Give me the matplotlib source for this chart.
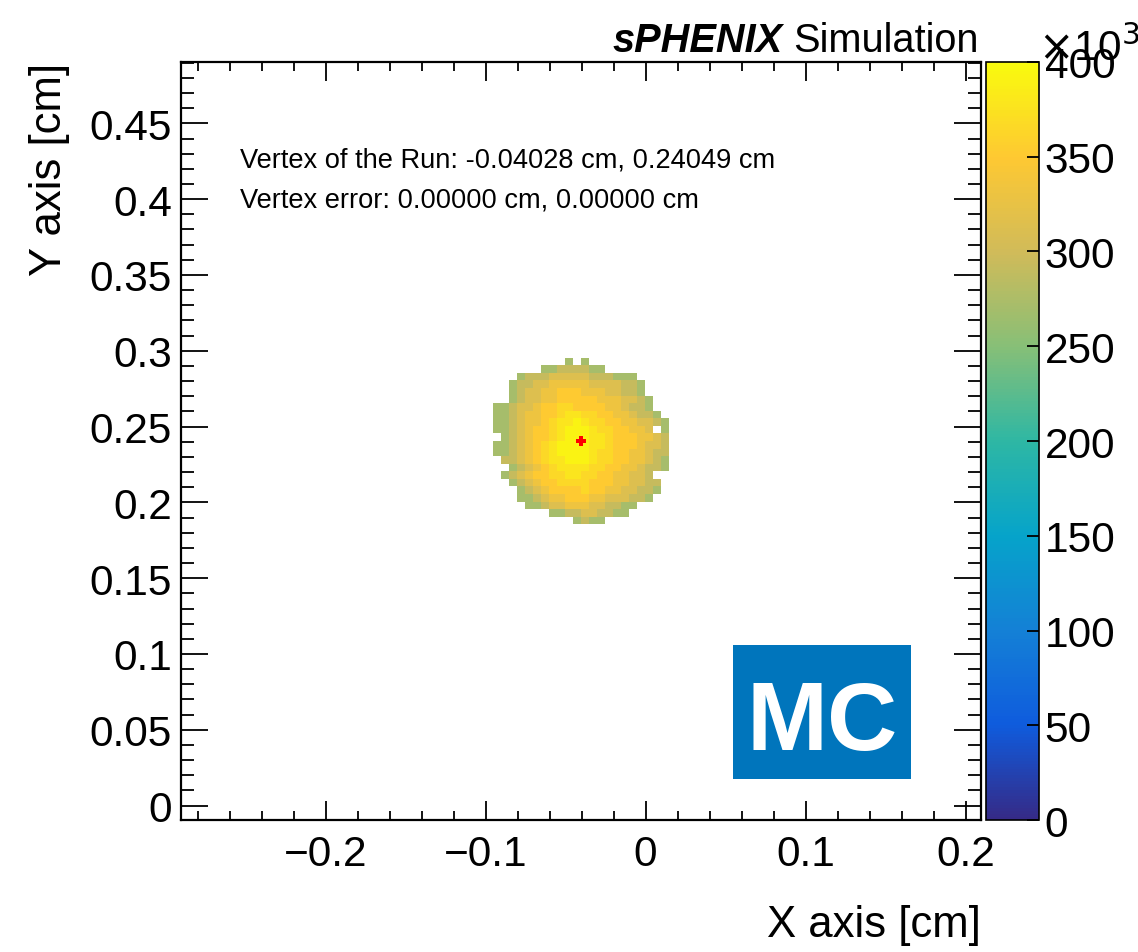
import numpy as np
import matplotlib
matplotlib.use('Agg')
import matplotlib.pyplot as plt
from matplotlib.colors import LinearSegmentedColormap
from matplotlib.patches import Rectangle
from matplotlib.ticker import MultipleLocator, FuncFormatter

plt.rcParams['font.family'] = ['Liberation Sans', 'DejaVu Sans']

# run vertex and histogram binning (100 x 100 bins, vertex +- 0.25 cm)
vertex_x = -0.04028
vertex_y = 0.24049
vertex_err_x = 0.0
vertex_err_y = 0.0
half_range = 0.25
n_bins = 100

# bin contents around the vertex, read off the picture as levels
# rows go top -> bottom, columns are bin offsets -11 .. +10 from the vertex
blob_rows = [
    ".........1.1..........",
    "......11222211........",
    "...122233333222111....",
    "..12233444443333221...",
    "..12334455544433221...",
    "..123344555554443321..",
    "11233455665555443221..",
    "112344556776655443221.",
    "1123445677876655443321",
    "11234556788876655443.1",
    ".123455678887765554432",
    "1123456788887765554332",
    "1123456788887665544322",
    ".223456778887665544321",
    "..12345677776655443221",
    ".1234556677665544332..",
    "..1234556666555443322.",
    "...123455556554433221.",
    "...11234455544333221..",
    "....11233444332211....",
    ".......1122332211.....",
    "..........1211........",
]
level_counts = {'1': 270e3, '2': 292e3, '3': 313e3, '4': 332e3,
                '5': 350e3, '6': 364e3, '7': 377e3, '8': 392e3}
z_max = 400e3

# ROOT kBird palette
bird_r = [0.2082, 0.0592, 0.0780, 0.0232, 0.1802, 0.5301, 0.8186, 0.9956, 0.9764]
bird_g = [0.1664, 0.3599, 0.5041, 0.6419, 0.7178, 0.7492, 0.7328, 0.7862, 0.9832]
bird_b = [0.5293, 0.8684, 0.8385, 0.7914, 0.6425, 0.4662, 0.3499, 0.1968, 0.0539]
bird = LinearSegmentedColormap.from_list('bird', list(zip(bird_r, bird_g, bird_b)), N=255)

x_edges = np.linspace(vertex_x - half_range, vertex_x + half_range, n_bins + 1)
y_edges = np.linspace(vertex_y - half_range, vertex_y + half_range, n_bins + 1)
counts = np.zeros((n_bins, n_bins))
for r, row in enumerate(blob_rows):
    iy = n_bins // 2 + 10 - r
    for c, ch in enumerate(row):
        if ch != '.':
            counts[iy, n_bins // 2 - 11 + c] = level_counts[ch]
counts = np.ma.masked_equal(counts, 0)

fig = plt.figure(figsize=(11.38, 9.53), dpi=100)
ax = fig.add_axes([0.1591, 0.1385, 0.7030, 0.7954])
mesh = ax.pcolormesh(x_edges, y_edges, counts, cmap=bird, vmin=0, vmax=z_max)
ax.plot([vertex_x], [vertex_y], marker='P', color='red', markersize=7, markeredgewidth=0)

ax.set_xlim(x_edges[0], x_edges[-1])
ax.set_ylim(y_edges[0], y_edges[-1])
ax.xaxis.set_major_locator(MultipleLocator(0.1))
ax.xaxis.set_minor_locator(MultipleLocator(0.02))
ax.yaxis.set_major_locator(MultipleLocator(0.05))
ax.yaxis.set_minor_locator(MultipleLocator(0.01))
fmt = FuncFormatter(lambda v, p: ('%g' % round(v, 3)).replace('-', '\u2212') if abs(v) > 1e-9 else '0')
ax.xaxis.set_major_formatter(fmt)
ax.yaxis.set_major_formatter(fmt)
ax.tick_params(which='both', direction='in', top=True, right=True, width=1.3, labelsize=30.5)
ax.tick_params(axis='x', which='major', length=13.7, pad=10)
ax.tick_params(axis='x', which='minor', length=6.5)
ax.tick_params(axis='y', which='major', length=19.4, pad=6.5)
ax.tick_params(axis='y', which='minor', length=9.4)
for s in ax.spines.values():
    s.set_linewidth(1.6)

ax.set_xlabel('X axis [cm]', fontsize=31.5, loc='right', labelpad=22)
ax.set_ylabel('Y axis [cm]', fontsize=31.5, loc='top', labelpad=14)

ax.text(0.074, 0.862, 'Vertex of the Run: %.5f cm, %.5f cm' % (vertex_x, vertex_y),
        transform=ax.transAxes, fontsize=19.6, va='baseline')
ax.text(0.074, 0.809, 'Vertex error: %.5f cm, %.5f cm' % (vertex_err_x, vertex_err_y),
        transform=ax.transAxes, fontsize=19.6, va='baseline')

# MC label box
fig.patches.append(Rectangle((0.6441, 0.1815), 0.1564, 0.1406, transform=fig.transFigure,
                             facecolor='#0075bc', edgecolor='none', zorder=3))
fig.text(0.7223, 0.2130, 'MC', fontsize=70, fontweight='bold', color='white',
         ha='center', va='baseline', zorder=4)

# experiment label
sim = fig.text(0.8603, 0.945, 'Simulation', fontsize=28.6, ha='right', va='baseline')
renderer = fig.canvas.get_renderer()
sim_left = fig.transFigure.inverted().transform(sim.get_window_extent(renderer).p0)[0]
fig.text(sim_left - 0.0095, 0.945, 'sPHENIX', fontsize=28.6, ha='right', va='baseline',
         fontweight='bold', fontstyle='italic')

cax = fig.add_axes([0.8664, 0.1385, 0.0466, 0.7954])
cb = fig.colorbar(mesh, cax=cax)
cb.outline.set_linewidth(1.2)
cb.set_ticks(np.arange(0, z_max + 1, 50e3))
cb.ax.yaxis.set_major_formatter(FuncFormatter(lambda v, p: '%d' % round(v / 1e3)))
cb.ax.tick_params(direction='in', length=9, width=1.3, labelsize=30.5, pad=4)
fig.text(0.912, 0.936, r'$\times$10$^{3}$', fontsize=30.5, ha='left', va='baseline')

fig.savefig('out.png', dpi=100)
